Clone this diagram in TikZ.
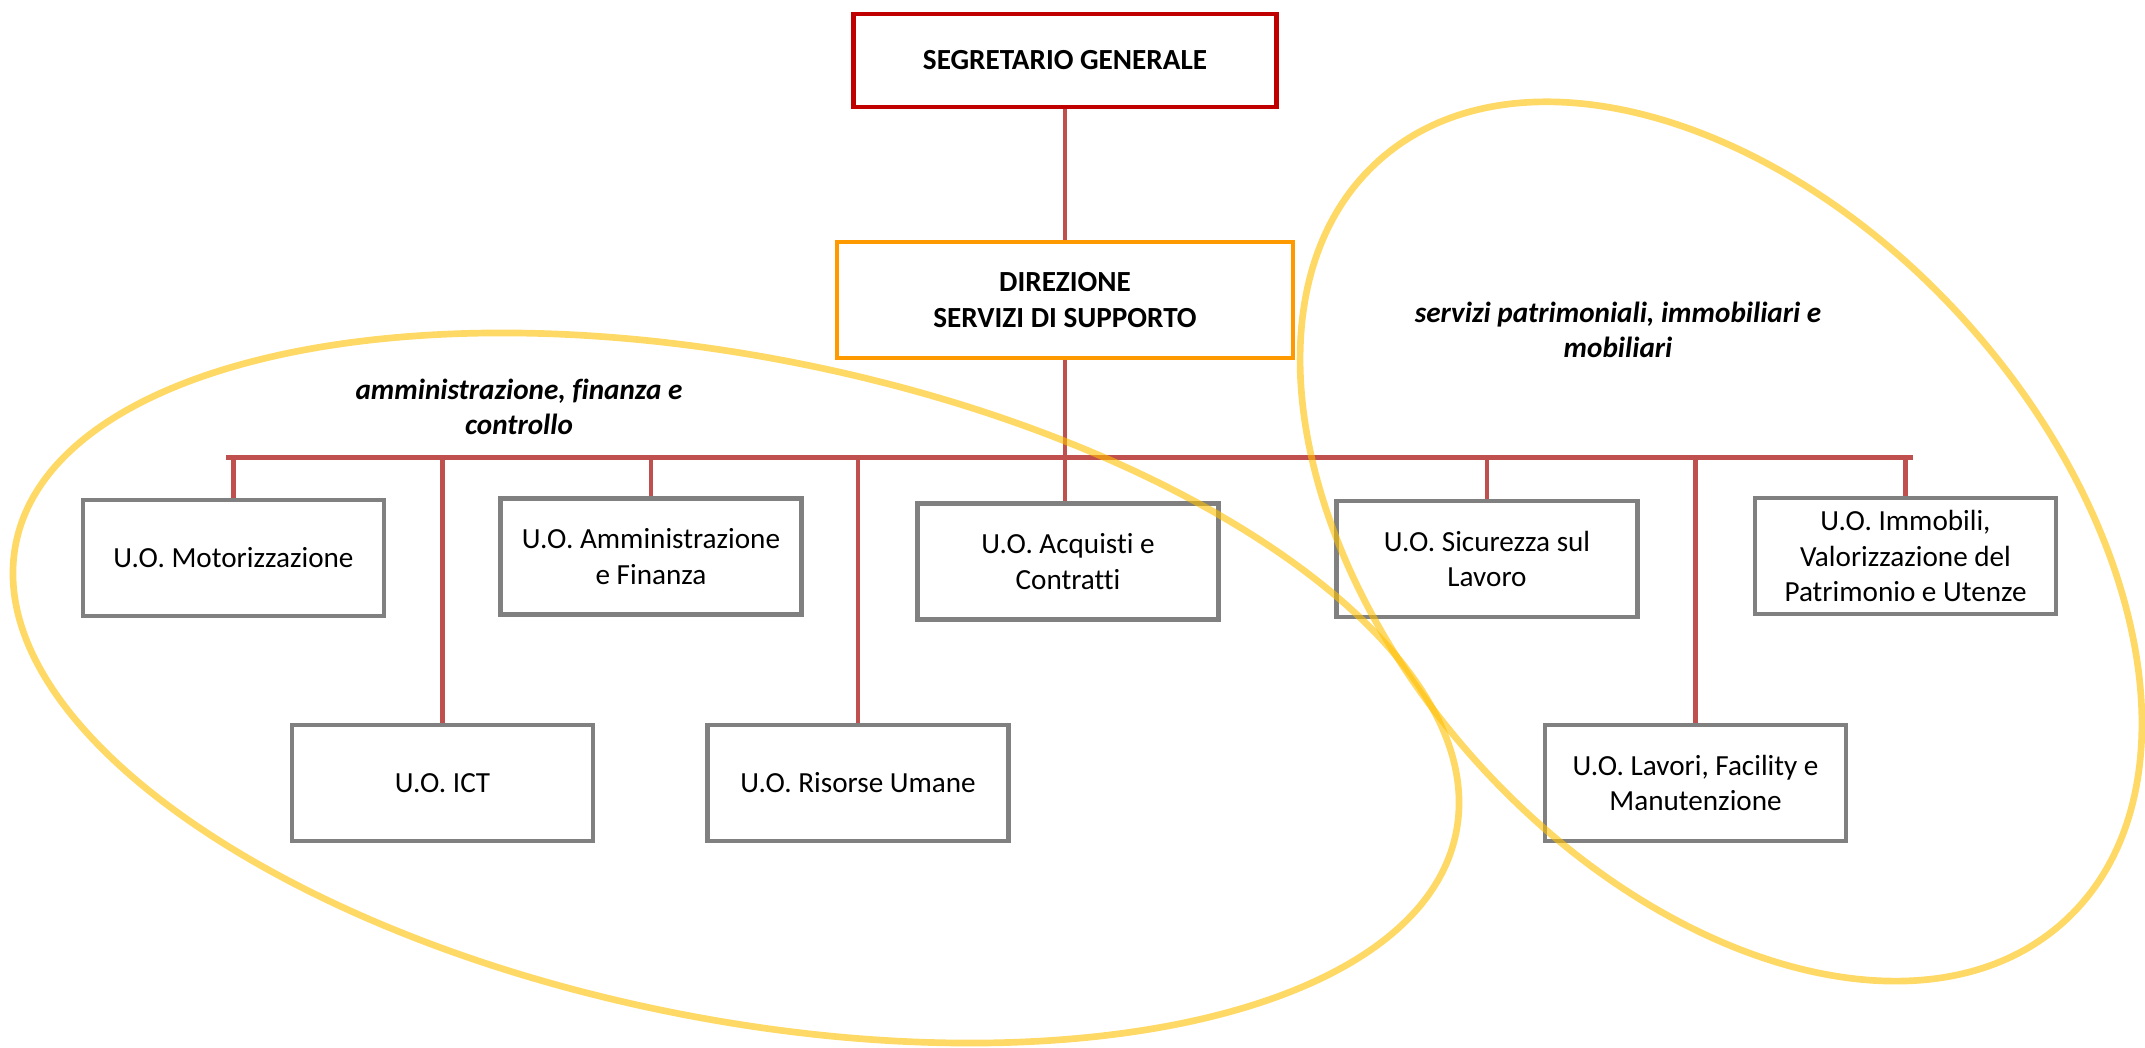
\documentclass[tikz,border=0pt]{standalone}
\usepackage{fontspec}
\setmainfont{Carlito}[Ligatures=NoCommon]
\usetikzlibrary{calc}
\definecolor{sgred}{HTML}{C00000}
\definecolor{dirorange}{HTML}{FF9900}
\definecolor{linkred}{HTML}{C0504D}
\definecolor{boxgray}{HTML}{808080}
\definecolor{areagold}{HTML}{FFC000}

\begin{document}
\begin{tikzpicture}[
  every node/.style={font=\fontsize{8.3pt}{10.1pt}\selectfont,align=center},
  uo/.style={draw=boxgray,line width=1.25pt,fill=white,minimum width=3.01cm,minimum height=1.16cm,inner sep=0pt},
  link/.style={draw=linkred,line width=1.2pt},
  area/.style={draw=areagold,draw opacity=0.6,line width=1.9pt},
  tag/.style={font=\fontsize{8.3pt}{10.1pt}\selectfont\bfseries\itshape}]
\useasboundingbox (0,0) rectangle (21.45,-10.48);

\coordinate (b0) at (2.26,-4.575);
\coordinate (b1) at (19.13,-4.575);
\coordinate (e0) at (7.36,-6.88);
\coordinate (e1) at (17.21,-5.415);

\node[draw=sgred,line width=1.25pt,minimum width=4.23cm,minimum height=0.93cm,font=\fontsize{8.3pt}{10.1pt}\selectfont\bfseries] (s0) at (10.65,-0.605) {SEGRETARIO GENERALE};
\node[draw=dirorange,line width=1.25pt,minimum width=4.56cm,minimum height=1.16cm,font=\fontsize{8.3pt}{10.1pt}\selectfont\bfseries] (d0) at (10.65,-3.0) {DIREZIONE\\SERVIZI DI SUPPORTO};

\node[uo] (u1) at (2.335,-5.58) {U.O. Motorizzazione};
\node[uo] (u2) at (6.51,-5.565) {U.O. Amministrazione\\e Finanza};
\node[uo] (u3) at (10.68,-5.615) {U.O. Acquisti e\\Contratti};
\node[uo] (u4) at (14.87,-5.59) {U.O. Sicurezza sul\\Lavoro};
\node[uo] (u5) at (19.055,-5.56) {U.O. Immobili,\\Valorizzazione del\\Patrimonio e Utenze};
\node[uo] (u6) at (4.425,-7.83) {U.O. ICT};
\node[uo] (u7) at (8.58,-7.83) {U.O. Risorse Umane};
\node[uo] (u8) at (16.955,-7.83) {U.O. Lavori, Facility e\\Manutenzione};

\node[tag] (l0) at (5.19,-4.07) {amministrazione, finanza e\\controllo};
\node[tag] (l1) at (16.18,-3.30) {servizi patrimoniali, immobiliari e\\mobiliari};

\draw[link] (s0) -- (d0);
\draw[link] (d0.south) -- (d0.south |- u3.north);
\draw[link,line width=1.7pt] (b0) -- (b1);
\draw[link] (u1.north) -- (u1.north |- b0);
\draw[link] (u2.north) -- (u2.north |- b0);
\draw[link] (u4.north) -- (u4.north |- b0);
\draw[link] (u5.north) -- (u5.north |- b0);
\draw[link] (u6.north) -- (u6.north |- b0);
\draw[link] (u7.north) -- (u7.north |- b0);
\draw[link] (u8.north) -- (u8.north |- b0);

\draw[area,rotate around={-11.37:(e0)}] (e0) ellipse [x radius=7.345,y radius=3.306];
\draw[area,rotate around={-48:(e1)}] (e1) ellipse [x radius=5.12,y radius=3.29];

\end{tikzpicture}
\end{document}
